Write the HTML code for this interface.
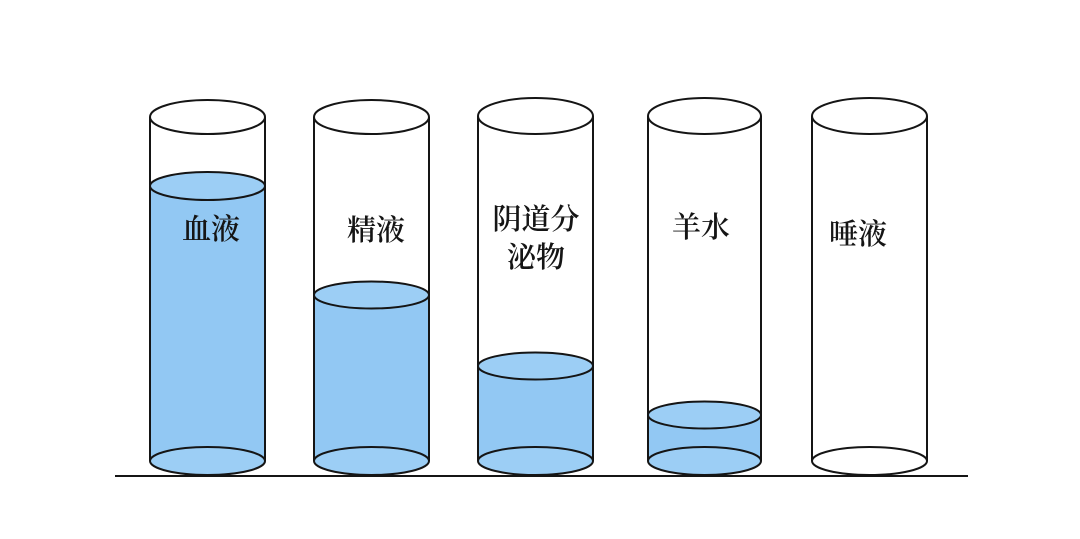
<!DOCTYPE html>
<html><head><meta charset="utf-8"><style>
html,body{margin:0;padding:0;background:#fff;}
svg{display:block;}
text{font-family:"Liberation Serif","Noto Serif CJK SC",serif;font-size:29px;font-weight:600;fill:#151515;text-anchor:middle;}
</style></head><body>
<svg width="1080" height="539" viewBox="0 0 1080 539" xmlns="http://www.w3.org/2000/svg">
<g stroke="#151515" stroke-width="2" fill="none">
<rect x="150" y="186" width="115" height="275" fill="#92c8f3" stroke="none"/>
<line x1="150" y1="117" x2="150" y2="461"/><line x1="265" y1="117" x2="265" y2="461"/>
<ellipse cx="207.5" cy="461" rx="57.5" ry="14" fill="#9ccef5"/>
<ellipse cx="207.5" cy="186" rx="57.5" ry="14" fill="#9ccef5"/>
<ellipse cx="207.5" cy="117" rx="57.5" ry="17" fill="#fff"/>
<rect x="314" y="295" width="115" height="166" fill="#92c8f3" stroke="none"/>
<line x1="314" y1="117" x2="314" y2="461"/><line x1="429" y1="117" x2="429" y2="461"/>
<ellipse cx="371.5" cy="461" rx="57.5" ry="14" fill="#9ccef5"/>
<ellipse cx="371.5" cy="295" rx="57.5" ry="13.5" fill="#9ccef5"/>
<ellipse cx="371.5" cy="117" rx="57.5" ry="17" fill="#fff"/>
<rect x="478" y="366" width="115" height="95" fill="#92c8f3" stroke="none"/>
<line x1="478" y1="116" x2="478" y2="461"/><line x1="593" y1="116" x2="593" y2="461"/>
<ellipse cx="535.5" cy="461" rx="57.5" ry="14" fill="#9ccef5"/>
<ellipse cx="535.5" cy="366" rx="57.5" ry="13.5" fill="#9ccef5"/>
<ellipse cx="535.5" cy="116" rx="57.5" ry="18" fill="#fff"/>
<rect x="648" y="415" width="113" height="46" fill="#92c8f3" stroke="none"/>
<line x1="648" y1="116" x2="648" y2="461"/><line x1="761" y1="116" x2="761" y2="461"/>
<ellipse cx="704.5" cy="461" rx="56.5" ry="14" fill="#9ccef5"/>
<ellipse cx="704.5" cy="415" rx="56.5" ry="13.5" fill="#9ccef5"/>
<ellipse cx="704.5" cy="116" rx="56.5" ry="18" fill="#fff"/>
<line x1="812" y1="116" x2="812" y2="461"/><line x1="927" y1="116" x2="927" y2="461"/>
<ellipse cx="869.5" cy="461" rx="57.5" ry="14" fill="#fff"/>
<ellipse cx="869.5" cy="116" rx="57.5" ry="18" fill="#fff"/>
<line x1="115" y1="476" x2="968" y2="476"/>
</g>
<text x="211" y="239">血液</text>
<text x="376" y="240">精液</text>
<text x="536" y="229">阴道分</text>
<text x="536" y="267">泌物</text>
<text x="701" y="237">羊水</text>
<text x="858" y="244">唾液</text>
</svg>
</body></html>
